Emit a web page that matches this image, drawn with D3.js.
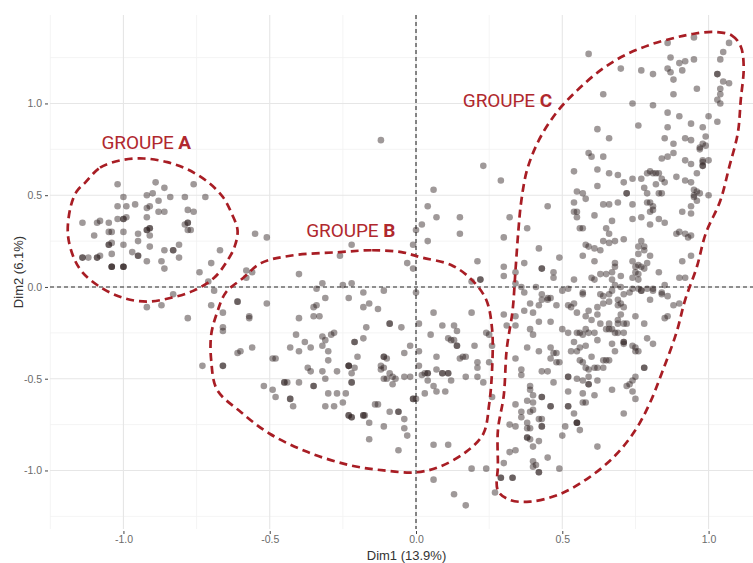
<!DOCTYPE html>
<html>
<head>
<meta charset="utf-8">
<script src="https://cdn.jsdelivr.net/npm/d3@7"></script>
<style>
  body { margin: 0; background: #fff; }
  svg { display: block; }
</style>
</head>
<body>
<svg id="chart" width="753" height="563"></svg>
<script>
// ---------------- DATA ----------------
const xTicks = [-1.0, -0.5, 0.0, 0.5, 1.0];
const yTicks = [-1.0, -0.5, 0.0, 0.5, 1.0];
const xMinorTicks = [-1.25, -0.75, -0.25, 0.25, 0.75];
const yMinorTicks = [-1.25, -0.75, -0.25, 0.25, 0.75, 1.25];
const xTitle = "Dim1 (13.9%)";
const yTitle = "Dim2 (6.1%)";

// individuals (Dim1, Dim2) — repeated entries are overlapping individuals
const pointsA = [
[-1.02,0.56],[-1.00,0.49],[-0.89,0.57],[-0.86,0.54],[-0.76,0.56],[-0.72,0.49],[-0.92,0.50],[-0.90,0.51],[-0.88,0.47],[-0.84,0.49],
[-0.79,0.49],[-0.96,0.45],[-1.02,0.44],[-0.99,0.44],[-0.92,0.43],[-0.91,0.44],[-0.88,0.41],[-0.86,0.41],[-0.78,0.42],[-0.76,0.41],
[-1.14,0.35],[-1.09,0.35],[-1.08,0.36],[-1.05,0.35],[-1.02,0.37],[-1.00,0.37],[-1.00,0.37],[-0.99,0.38],[-0.92,0.38],[-0.78,0.35],
[-0.78,0.35],[-0.79,0.34],[-1.10,0.28],[-1.05,0.30],[-1.04,0.30],[-1.00,0.30],[-0.95,0.29],[-0.92,0.31],[-0.92,0.31],[-0.91,0.32],
[-0.91,0.32],[-0.91,0.28],[-0.78,0.31],[-0.77,0.31],[-0.55,0.29],[-1.05,0.23],[-1.05,0.23],[-1.04,0.24],[-1.00,0.23],[-0.95,0.25],
[-1.14,0.16],[-1.14,0.16],[-1.12,0.16],[-1.09,0.16],[-1.09,0.16],[-1.08,0.17],[-1.04,0.18],[-0.97,0.19],[-0.95,0.17],[-0.95,0.17],
[-0.91,0.22],[-0.86,0.20],[-0.83,0.20],[-0.83,0.20],[-0.81,0.23],[-0.67,0.20],[-1.04,0.11],[-1.04,0.11],[-1.04,0.11],[-1.00,0.11],
[-1.00,0.11],[-1.00,0.11],[-0.92,0.14],[-0.87,0.14],[-0.86,0.10],[-0.81,0.16],[-0.74,0.08],[-0.70,0.13],[-0.71,0.03],[-0.69,-0.02],
[-0.83,-0.04],[-0.61,-0.08],[-0.61,-0.08],[-0.57,-0.16],[-0.92,-0.11],[-0.87,-0.10],[-0.70,-0.10],[-0.66,-0.14],[-0.78,-0.17],[-0.66,-0.22],
[-0.66,-0.24],[-0.73,-0.43],[-0.66,-0.43],[-0.66,-0.43],[-0.61,-0.36],[-0.60,-0.35],[-0.56,-0.33],[-0.51,0.27],[-0.58,0.09],[-0.56,0.08],
[-0.58,0.05]
];
const pointsB = [
[-0.40,0.07],[-0.26,0.17],[-0.32,0.02],[-0.34,-0.01],[-0.25,0.01],[-0.22,0.02],[-0.23,-0.06],[-0.31,-0.06],[-0.51,-0.09],[-0.57,-0.17],
[-0.40,-0.17],[-0.35,-0.11],[-0.34,-0.10],[-0.35,-0.16],[-0.33,-0.16],[-0.41,-0.26],[-0.38,-0.30],[-0.36,-0.33],[-0.32,-0.27],[-0.31,-0.29],
[-0.29,-0.26],[-0.28,-0.25],[-0.32,-0.32],[-0.30,-0.35],[-0.43,-0.33],[-0.40,-0.35],[-0.49,-0.39],[-0.48,-0.39],[-0.37,-0.44],[-0.36,-0.46],
[-0.30,-0.40],[-0.32,-0.46],[-0.27,-0.46],[-0.23,-0.43],[-0.23,-0.43],[-0.23,-0.43],[-0.31,-0.50],[-0.52,-0.54],[-0.49,-0.56],[-0.45,-0.52],
[-0.45,-0.52],[-0.44,-0.52],[-0.40,-0.52],[-0.35,-0.54],[-0.35,-0.54],[-0.30,-0.58],[-0.27,-0.58],[-0.24,-0.58],[-0.48,-0.60],[-0.43,-0.61],
[-0.43,-0.61],[-0.42,-0.65],[-0.31,-0.65],[-0.28,-0.65],[-0.25,-0.63],[-0.23,-0.70],[-0.23,-0.70],[-0.22,-0.71],[-0.22,-0.71],[-0.18,-0.70],
[-0.18,-0.70],[-0.175,-0.70],
[0.15,0.29],[0.04,0.25],[-0.01,0.23],[-0.22,0.23],[-0.03,0.13],[-0.01,0.10],[0.21,0.14],[0.19,0.03],[0.22,0.04],[-0.11,-0.02],
[0.00,-0.03],[-0.18,-0.03],[-0.18,-0.11],[-0.16,-0.09],[-0.13,-0.12],[0.06,-0.14],[0.19,-0.14],[-0.09,-0.20],[-0.09,-0.20],[-0.17,-0.22],
[-0.05,-0.22],[0.01,-0.20],[0.09,-0.21],[0.13,-0.21],[0.14,-0.24],[0.05,-0.26],[0.25,-0.26],[-0.18,-0.28],[-0.21,-0.30],[-0.21,-0.30],
[0.11,-0.28],[0.12,-0.29],[0.13,-0.29],[0.14,-0.32],[0.14,-0.32],[0.20,-0.32],[-0.02,-0.32],[-0.04,-0.36],[0.01,-0.35],[-0.20,-0.38],
[-0.11,-0.38],[-0.11,-0.38],[-0.10,-0.39],[0.07,-0.38],[0.15,-0.39],[0.16,-0.38],[0.17,-0.38],[-0.21,-0.44],[-0.12,-0.43],[-0.12,-0.45],
[-0.11,-0.44],[-0.09,-0.47],[-0.08,-0.49],[0.01,-0.43],[0.03,-0.47],[0.04,-0.47],[0.04,-0.47],[0.07,-0.45],[0.09,-0.47],[0.09,-0.47],
[0.11,-0.47],[0.11,-0.47],[0.21,-0.41],[0.21,-0.44],[-0.22,-0.47],[-0.22,-0.52],[-0.22,-0.52],[-0.11,-0.50],[-0.10,-0.50],[-0.07,-0.50],
[-0.04,-0.49],[-0.02,-0.49],[0.02,-0.48],[0.04,-0.51],[0.12,-0.51],[0.17,-0.49],[0.21,-0.49],[0.23,-0.52],[-0.08,-0.53],[0.06,-0.54],
[0.07,-0.57],[0.10,-0.57],[0.03,-0.58],[-0.14,-0.64],[-0.13,-0.64],[-0.01,-0.61],[-0.01,-0.61],[0.00,-0.61],[-0.09,-0.68],[-0.06,-0.68],
[-0.06,-0.68],[-0.16,-0.74],[-0.04,-0.72],[-0.11,-0.76],[-0.16,-0.83],[-0.06,-0.89],[-0.03,-0.81],[0.06,-0.86],[0.11,-0.86],[0.13,-1.13],
[0.17,-1.19],[0.19,-0.99],[0.24,-0.99],[-0.04,-0.77],[0.06,-1.05],
[-0.12,0.80],[0.06,0.53],[0.04,0.44],[0.07,0.38],[0.15,0.38],[0.02,0.34],[0.00,0.31],
[0.26,-0.60],[0.25,-0.41],[0.24,-0.25],[0.26,-0.32]
];
const pointsC = [
[0.59,1.27],[0.86,1.33],[0.95,1.36],[1.07,1.33],[1.05,1.28],[1.04,1.24],[1.03,1.16],[1.03,1.16],[1.05,1.12],[1.07,1.11],
[1.04,1.08],[1.04,1.05],[1.03,1.02],[1.04,1.00],[1.03,0.90],[1.00,0.93],[0.87,1.25],[0.90,1.22],[0.92,1.23],[0.95,1.24],
[0.86,1.19],[0.87,1.17],[0.91,1.18],[0.88,1.13],[0.77,1.18],[0.81,1.16],[0.70,1.19],[0.88,1.05],[0.96,1.08],[0.64,1.05],
[0.74,1.00],[0.81,0.99],[0.86,0.95],[0.90,0.93],[0.94,0.89],[0.76,0.88],[0.86,0.87],[0.98,0.87],[0.62,0.86],[0.66,0.81],
[0.85,0.81],[0.88,0.78],[0.92,0.81],[0.94,0.80],[0.99,0.82],[0.98,0.78],[0.99,0.77],[0.97,0.76],[0.97,0.75],
[0.88,0.73],[0.84,0.70],[0.86,0.71],[0.59,0.73],[0.60,0.71],[0.64,0.71],[0.92,0.69],[0.94,0.67],[0.98,0.69],[0.98,0.68],
[1.00,0.69],[0.98,0.66],[0.98,0.66],[0.23,0.66],[0.29,0.58],[0.54,0.63],[0.62,0.64],[0.66,0.62],[0.69,0.61],[0.71,0.57],
[0.74,0.59],[0.77,0.59],[0.79,0.62],[0.80,0.63],[0.81,0.62],[0.82,0.62],[0.83,0.62],[0.84,0.59],[0.85,0.57],[0.82,0.56],
[0.89,0.60],[0.92,0.58],[0.94,0.57],[0.96,0.62],[0.78,0.54],[0.79,0.51],[0.83,0.51],[0.84,0.51],[0.72,0.51],[0.72,0.51],
[0.95,0.53],[0.96,0.52],[0.97,0.51],[0.95,0.49],[0.96,0.47],[0.95,0.50],[1.00,0.50],[0.62,0.55],[0.55,0.52],[0.57,0.51],
[0.58,0.48],[0.54,0.46],
[0.45,0.44],[0.54,0.41],[0.55,0.41],[0.55,0.38],[0.64,0.45],[0.66,0.45],[0.69,0.46],[0.61,0.39],[0.67,0.36],[0.74,0.45],
[0.79,0.46],[0.80,0.46],[0.81,0.44],[0.81,0.42],[0.80,0.41],[0.91,0.41],[0.94,0.44],[0.94,0.40],[0.74,0.37],[0.77,0.38],
[0.83,0.37],[0.85,0.35],[0.80,0.34],[0.32,0.38],[0.38,0.32],[0.30,0.27],[0.56,0.32],[0.57,0.32],[0.65,0.32],[0.66,0.29],
[0.89,0.29],[0.90,0.30],[0.92,0.29],[0.93,0.27],[0.94,0.28],[0.68,0.25],[0.71,0.26],[0.64,0.25],[0.66,0.24],[0.58,0.23],
[0.59,0.22],[0.61,0.21],[0.63,0.20],[0.76,0.22],[0.77,0.25],[0.78,0.22],[0.78,0.20],[0.76,0.18],[0.80,0.17],[0.94,0.17],
[0.42,0.21],[0.49,0.16],[0.57,0.17],
[0.91,0.14],[0.74,0.14],[0.75,0.11],[0.76,0.12],[0.77,0.11],[0.78,0.10],[0.79,0.13],[0.75,0.08],[0.76,0.07],[0.74,0.05],
[0.76,0.04],[0.83,0.08],[0.68,0.13],[0.68,0.11],[0.70,0.06],[0.90,0.05],[0.92,0.05],[0.67,0.08],[0.68,0.01],[0.70,0.00],
[0.74,-0.01],[0.76,-0.01],[0.77,-0.02],[0.79,-0.01],[0.81,-0.01],[0.85,0.01],[0.84,-0.03],[0.86,-0.05],[0.71,-0.04],[0.61,0.14],
[0.43,0.10],[0.43,0.10],[0.47,0.08],[0.47,0.05],[0.30,0.11],[0.30,0.06],[0.34,0.08],[0.37,0.13],[0.36,0.00],[0.37,-0.03],
[0.41,0.00],[0.43,-0.04],[0.45,-0.06],[0.46,-0.06],[0.50,-0.02],[0.52,-0.01],[0.54,0.04],[0.57,-0.03],[0.57,-0.04],[0.60,0.05],
[0.61,0.04],[0.63,0.07],[0.65,0.07],[0.67,0.04],[0.63,-0.04],[0.66,-0.04],[0.34,0.02],[0.22,0.04],
[0.30,-0.15],[0.34,-0.16],[0.31,-0.21],[0.34,-0.21],[0.37,-0.13],[0.40,-0.14],[0.39,-0.09],[0.42,-0.10],[0.43,-0.07],[0.45,-0.07],
[0.48,-0.10],[0.52,-0.10],[0.53,-0.11],[0.54,-0.09],[0.55,-0.14],[0.42,-0.19],[0.46,-0.19],[0.39,-0.23],[0.40,-0.26],[0.50,-0.23],
[0.52,-0.25],[0.55,-0.25],[0.56,-0.25],[0.57,-0.26],[0.58,-0.23],[0.59,-0.25],[0.61,-0.25],[0.58,-0.16],[0.60,-0.18],[0.62,-0.15],
[0.62,-0.11],[0.59,-0.13],[0.63,-0.20],[0.65,-0.23],[0.66,-0.23],[0.66,-0.20],[0.64,-0.09],[0.66,-0.08],[0.64,-0.05],[0.80,-0.07],
[0.84,-0.04],[0.88,-0.10],[0.90,-0.09],[0.75,-0.16],[0.85,-0.17],[0.86,-0.16],[0.78,-0.20],[0.79,-0.28],[0.81,-0.31],[0.71,-0.30],
[0.71,-0.30],[0.71,-0.31],[0.74,-0.32],[0.75,-0.33],[0.75,-0.35],[0.76,-0.35],[0.67,-0.31],[0.68,-0.35],[0.69,-0.20],[0.69,-0.18],
[0.70,-0.15],[0.71,-0.20],[0.72,-0.20],[0.71,-0.25],[0.69,-0.25],[0.68,-0.25],[0.70,-0.09],[0.71,-0.11],[0.69,-0.07],[0.69,-0.10],
[0.67,-0.23],[0.67,-0.02],[0.73,-0.03],[0.77,-0.02],[0.81,-0.02],
[0.38,-0.33],[0.42,-0.35],[0.46,-0.33],[0.47,-0.36],[0.48,-0.36],[0.46,-0.39],[0.48,-0.41],[0.49,-0.41],[0.53,-0.35],[0.55,-0.35],
[0.54,-0.30],[0.56,-0.33],[0.58,-0.32],[0.62,-0.29],[0.60,-0.38],[0.56,-0.40],[0.57,-0.41],[0.58,-0.44],[0.59,-0.45],[0.61,-0.44],
[0.62,-0.44],[0.64,-0.40],[0.65,-0.40],[0.64,-0.44],[0.34,-0.39],[0.36,-0.45],[0.36,-0.48],[0.43,-0.46],[0.45,-0.46],[0.52,-0.49],
[0.52,-0.49],[0.55,-0.50],[0.57,-0.51],[0.59,-0.49],[0.59,-0.53],[0.59,-0.53],[0.62,-0.51],[0.47,-0.52],[0.39,-0.54],[0.39,-0.56],
[0.40,-0.59],[0.38,-0.62],[0.43,-0.60],[0.43,-0.60],[0.52,-0.57],[0.57,-0.58],[0.61,-0.59],[0.34,-0.64],[0.40,-0.63],[0.46,-0.65],
[0.46,-0.65],[0.52,-0.65],[0.52,-0.65],[0.54,-0.69],[0.57,-0.63],[0.58,-0.63],[0.36,-0.68],[0.36,-0.71],[0.39,-0.68],[0.40,-0.67],
[0.42,-0.72],[0.43,-0.72],[0.38,-0.74],[0.38,-0.77],[0.39,-0.77],[0.43,-0.76],[0.43,-0.76],[0.32,-0.75],[0.34,-0.76],[0.51,-0.76],
[0.55,-0.74],[0.55,-0.74],[0.55,-0.74],[0.56,-0.78],[0.50,-0.81],[0.42,-0.84],[0.38,-0.82],[0.38,-0.82],[0.39,-0.83],[0.40,-0.87],
[0.62,-0.87],[0.78,-0.44],[0.78,-0.44],[0.75,-0.49],[0.74,-0.51],[0.73,-0.53],[0.72,-0.54],[0.74,-0.57],[0.75,-0.61],[0.67,-0.56],
[0.71,-0.69],[0.66,-0.40],
[0.32,-0.90],[0.34,-0.89],[0.40,-0.95],[0.41,-0.97],[0.40,-0.98],[0.30,-0.96],[0.42,-1.01],[0.42,-1.01],[0.45,-0.93],[0.49,-0.99],
[0.29,-1.04],[0.29,-1.04],[0.33,-1.04],[0.33,-1.04],[0.27,-1.12]
];

// hand-drawn group outlines (Dim1, Dim2)
const outlineA = [
[-1.13,0.57],[-1.08,0.65],[-1.01,0.69],[-0.93,0.70],[-0.85,0.68],[-0.78,0.64],[-0.71,0.57],[-0.66,0.49],[-0.63,0.40],[-0.61,0.31],
[-0.62,0.22],[-0.65,0.13],[-0.69,0.05],[-0.76,-0.02],[-0.84,-0.06],[-0.92,-0.08],[-1.00,-0.06],[-1.08,0.00],[-1.14,0.08],[-1.17,0.16],
[-1.19,0.29],[-1.18,0.44],[-1.16,0.52]
];
const outlineB = [
[-0.26,0.19],[-0.15,0.20],[-0.05,0.19],[0.02,0.16],[0.12,0.12],[0.19,0.04],[0.24,-0.07],[0.26,-0.23],[0.26,-0.45],[0.25,-0.64],
[0.23,-0.80],[0.17,-0.90],[0.08,-0.98],[0.00,-1.01],[-0.11,-1.00],[-0.23,-0.97],[-0.37,-0.90],[-0.50,-0.80],[-0.60,-0.68],[-0.68,-0.56],
[-0.70,-0.40],[-0.70,-0.26],[-0.68,-0.14],[-0.65,-0.03],[-0.59,0.05],[-0.53,0.13],[-0.43,0.17]
];
const outlineC = [
[1.02,1.39],[1.08,1.37],[1.11,1.31],[1.12,1.20],[1.11,1.02],[1.10,0.84],[1.07,0.65],[1.04,0.47],[0.99,0.29],[0.96,0.11],
[0.92,-0.07],[0.89,-0.25],[0.84,-0.47],[0.80,-0.63],[0.75,-0.78],[0.68,-0.92],[0.59,-1.04],[0.49,-1.13],[0.39,-1.17],[0.32,-1.16],
[0.28,-1.11],[0.28,-0.97],[0.28,-0.78],[0.30,-0.59],[0.31,-0.34],[0.33,-0.13],[0.34,0.09],[0.35,0.31],[0.36,0.47],[0.38,0.64],
[0.42,0.80],[0.48,0.95],[0.55,1.07],[0.63,1.18],[0.71,1.26],[0.80,1.32],[0.89,1.36],[0.95,1.38]
];
const groupNames = ["GROUPE ", "GROUPE ", "GROUPE "];
const groupLetters = ["A", "B", "C"];
const groupLabelAt = [[-1.075, 0.75], [-0.375, 0.27], [0.16, 0.98]];

// ---------------- DRAW ----------------
const W = 753, H = 563;
const P = { left: 50, right: 763, top: 15, bottom: 529 };
const svg = d3.select("#chart");
const x = d3.scaleLinear().domain([-1.251, 1.186]).range([P.left, P.right]);
const y = d3.scaleLinear().domain([-1.319, 1.482]).range([P.bottom, P.top]);

svg.append("rect").attr("width", W).attr("height", H).attr("fill", "#fff");

const defs = svg.append("defs");
defs.append("clipPath").attr("id", "panel")
  .append("rect").attr("x", P.left).attr("y", P.top)
  .attr("width", P.right - P.left).attr("height", P.bottom - P.top);

const grid = svg.append("g");
grid.selectAll("line.vmin").data(xMinorTicks).join("line")
  .attr("x1", d => x(d)).attr("x2", d => x(d)).attr("y1", P.top).attr("y2", P.bottom)
  .attr("stroke", "#f1f1f1").attr("stroke-width", 0.8);
grid.selectAll("line.hmin").data(yMinorTicks).join("line")
  .attr("y1", d => y(d)).attr("y2", d => y(d)).attr("x1", P.left).attr("x2", P.right)
  .attr("stroke", "#f1f1f1").attr("stroke-width", 0.8);
grid.selectAll("line.vmaj").data(xTicks).join("line")
  .attr("x1", d => x(d)).attr("x2", d => x(d)).attr("y1", P.top).attr("y2", P.bottom)
  .attr("stroke", "#e6e6e6").attr("stroke-width", 1.1);
grid.selectAll("line.hmaj").data(yTicks).join("line")
  .attr("y1", d => y(d)).attr("y2", d => y(d)).attr("x1", P.left).attr("x2", P.right)
  .attr("stroke", "#e6e6e6").attr("stroke-width", 1.1);

// axes
const fmt = d => d.toFixed(1);
const xAxis = svg.append("g").attr("transform", `translate(0,${P.bottom + 2})`)
  .call(d3.axisBottom(x).tickValues(xTicks).tickFormat(fmt).tickSize(3).tickPadding(2));
const yAxis = svg.append("g").attr("transform", `translate(${P.left - 2},0)`)
  .call(d3.axisLeft(y).tickValues(yTicks).tickFormat(fmt).tickSize(3).tickPadding(3));
[xAxis, yAxis].forEach(a => {
  a.select(".domain").remove();
  a.selectAll(".tick line").attr("stroke", "#444").attr("stroke-width", 1);
  a.selectAll(".tick text").attr("fill", "#6b6b6b")
    .style("font-family", "'Liberation Sans', Arial, sans-serif").style("font-size", "10.5px");
});

svg.append("text").attr("x", (P.left + P.right) / 2).attr("y", 560)
  .attr("text-anchor", "middle").attr("fill", "#333")
  .style("font-family", "'Liberation Sans', Arial, sans-serif").style("font-size", "13px")
  .text(xTitle);
svg.append("text").attr("transform", `translate(23,${(P.top + P.bottom) / 2}) rotate(-90)`)
  .attr("text-anchor", "middle").attr("fill", "#333")
  .style("font-family", "'Liberation Sans', Arial, sans-serif").style("font-size", "13px")
  .text(yTitle);

const plot = svg.append("g").attr("clip-path", "url(#panel)");

// reference lines at 0
plot.append("line").attr("x1", x(0)).attr("x2", x(0)).attr("y1", P.top).attr("y2", P.bottom)
  .attr("stroke", "#2b2b2b").attr("stroke-width", 1.1).attr("stroke-dasharray", "4,3");
plot.append("line").attr("y1", y(0)).attr("y2", y(0)).attr("x1", P.left).attr("x2", P.right)
  .attr("stroke", "#2b2b2b").attr("stroke-width", 1.1).attr("stroke-dasharray", "4,3");

// points
const allPoints = pointsA.concat(pointsB, pointsC);
plot.append("g").selectAll("circle").data(allPoints).join("circle")
  .attr("cx", d => x(d[0])).attr("cy", d => y(d[1])).attr("r", 3.3)
  .attr("fill", "#2a1c1c").attr("fill-opacity", 0.45);

// outlines
const outline = d3.line().x(d => x(d[0])).y(d => y(d[1])).curve(d3.curveCatmullRomClosed.alpha(0.5));
plot.append("g").selectAll("path").data([outlineA, outlineB, outlineC]).join("path")
  .attr("d", outline).attr("fill", "none")
  .attr("stroke", "#a81d24").attr("stroke-width", 2.7).attr("stroke-dasharray", "8,5");

// labels
const lab = svg.append("g").selectAll("text").data(groupLabelAt).join("text")
  .attr("x", d => x(d[0])).attr("y", d => y(d[1]))
  .attr("fill", "#b0282e")
  .style("font-family", "Roboto, 'Liberation Sans', sans-serif").style("font-size", "19px")
  .style("letter-spacing", "-0.1px");
lab.append("tspan").text((d, i) => groupNames[i]);
lab.append("tspan").attr("font-weight", "bold").text((d, i) => groupLetters[i]);
</script>
</body>
</html>
